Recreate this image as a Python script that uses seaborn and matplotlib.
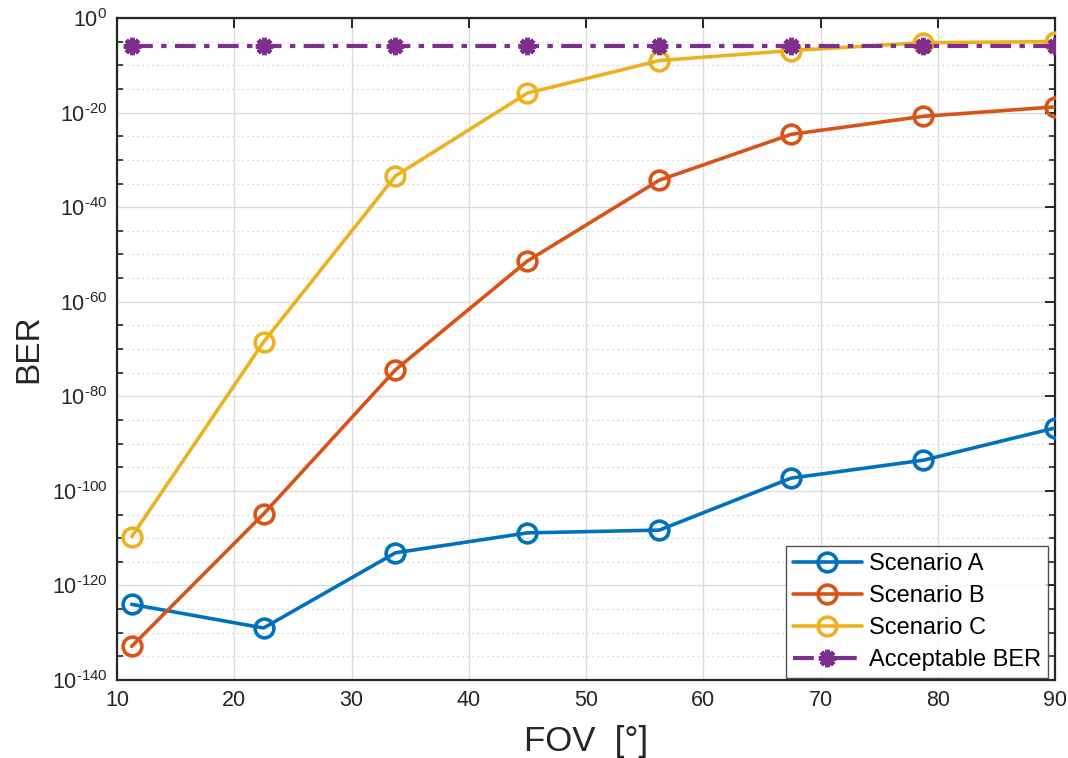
import numpy as np
import pandas as pd
import matplotlib
matplotlib.use("Agg")
import matplotlib.pyplot as plt
import matplotlib.ticker as mticker
import seaborn as sns

# ---- data ----
fov = [11.25, 22.5, 33.75, 45.0, 56.25, 67.5, 78.75, 90.0]
ber_a = [1e-124, 1e-129, 8e-114, 1.3e-109, 5e-109, 5e-98, 3e-94, 2e-87]
ber_b = [1.3e-133, 1.3e-105, 4e-75, 4e-52, 5e-35, 2.5e-25, 1.6e-21, 1.6e-19]
ber_c = [2e-110, 3e-69, 4e-34, 1.3e-16, 1e-9, 1.3e-7, 6e-6, 1e-5]
ber_acc = [1e-6] * 8
labels = ["Scenario A", "Scenario B", "Scenario C", "Acceptable BER"]
colors = ["#0072BD", "#D95319", "#EDB120", "#7E2F8E"]

sns.set_style("white")
plt.rcParams["font.family"] = ["Liberation Sans", "DejaVu Sans"]
plt.rcParams["mathtext.fontset"] = "custom"
plt.rcParams["mathtext.rm"] = "Liberation Sans"
plt.rcParams["mathtext.it"] = "Liberation Sans"
plt.rcParams["mathtext.default"] = "regular"

fig = plt.figure(figsize=(10.68, 7.58), dpi=100)
ax = fig.add_axes([117/1068, 1-680/758, (1055-117)/1068, (680-18)/758])

df = pd.DataFrame({"FOV": fov, "A": ber_a, "B": ber_b, "C": ber_c, "ACC": ber_acc})

for col, lab, c in zip(["A", "B", "C"], labels[:3], colors[:3]):
    sns.lineplot(data=df, x="FOV", y=col, ax=ax, color=c, linewidth=2.6,
                 marker="o", markersize=13.5, markerfacecolor="none",
                 markeredgecolor=c, markeredgewidth=2.6, label=lab, zorder=3)

sns.lineplot(data=df, x="FOV", y="ACC", ax=ax, color=colors[3], linewidth=3.0,
             marker=(8, 2, 0), markersize=12.5, markerfacecolor=colors[3],
             markeredgecolor=colors[3], markeredgewidth=3.4, label=labels[3],
             dashes=False, zorder=4)
acc_line = ax.get_lines()[-1]
acc_line.set_linestyle((0, (5, 2, 1.3, 2)))

ax.set_yscale("log")
ax.set_xlim(10, 90)
ax.set_ylim(1e-140, 1e0)

ax.xaxis.set_major_locator(mticker.MultipleLocator(10))
major = [10.0**e for e in range(-140, 1, 20)]
minor = [10.0**e for e in range(-140, 0, 5) if e % 20 != 0]
ax.yaxis.set_major_locator(mticker.FixedLocator(major))
ax.yaxis.set_minor_locator(mticker.FixedLocator(minor))

def fmt(v, p):
    e = int(round(np.log10(v)))
    s = str(abs(e))
    if e < 0:
        s = "\u2010" + s
    return r"$10^{%s}$" % s

ax.yaxis.set_major_formatter(mticker.FuncFormatter(fmt))
ax.yaxis.set_minor_formatter(mticker.NullFormatter())

ax.grid(True, which="major", color="#dcdcdc", linewidth=1.0, linestyle="-")
ax.grid(True, which="minor", axis="y", color="#c8c8c8", linewidth=0.9, linestyle=(0, (1, 3)))
ax.set_axisbelow(True)

for s in ax.spines.values():
    s.set_visible(True)
    s.set_color("#262626")
    s.set_linewidth(1.6)

ax.tick_params(which="major", direction="in", length=7, width=1.4, color="#262626",
               top=True, right=True, labelsize=15.5, labelcolor="#262626", pad=7)
ax.tick_params(which="minor", direction="in", length=4, width=1.2, color="#262626",
               top=False, right=True, left=True)
ax.tick_params(axis="x", which="minor", bottom=False, top=False)

ax.set_xlabel("FOV  [°]", fontsize=25, color="#262626", labelpad=10)
ax.set_ylabel("BER", fontsize=24, color="#262626", labelpad=5)

leg = ax.legend(loc="lower right", bbox_to_anchor=((1048-117)/938, (680-678)/662),
                fontsize=17, frameon=True, fancybox=False,
                borderaxespad=0.0, handlelength=2.9, handletextpad=0.3,
                labelspacing=0.42, borderpad=0.3)
leg.get_frame().set_edgecolor("#262626")
leg.get_frame().set_linewidth(1.0)
for t in leg.get_texts():
    t.set_color("black")

fig.savefig("out.png", dpi=100)
